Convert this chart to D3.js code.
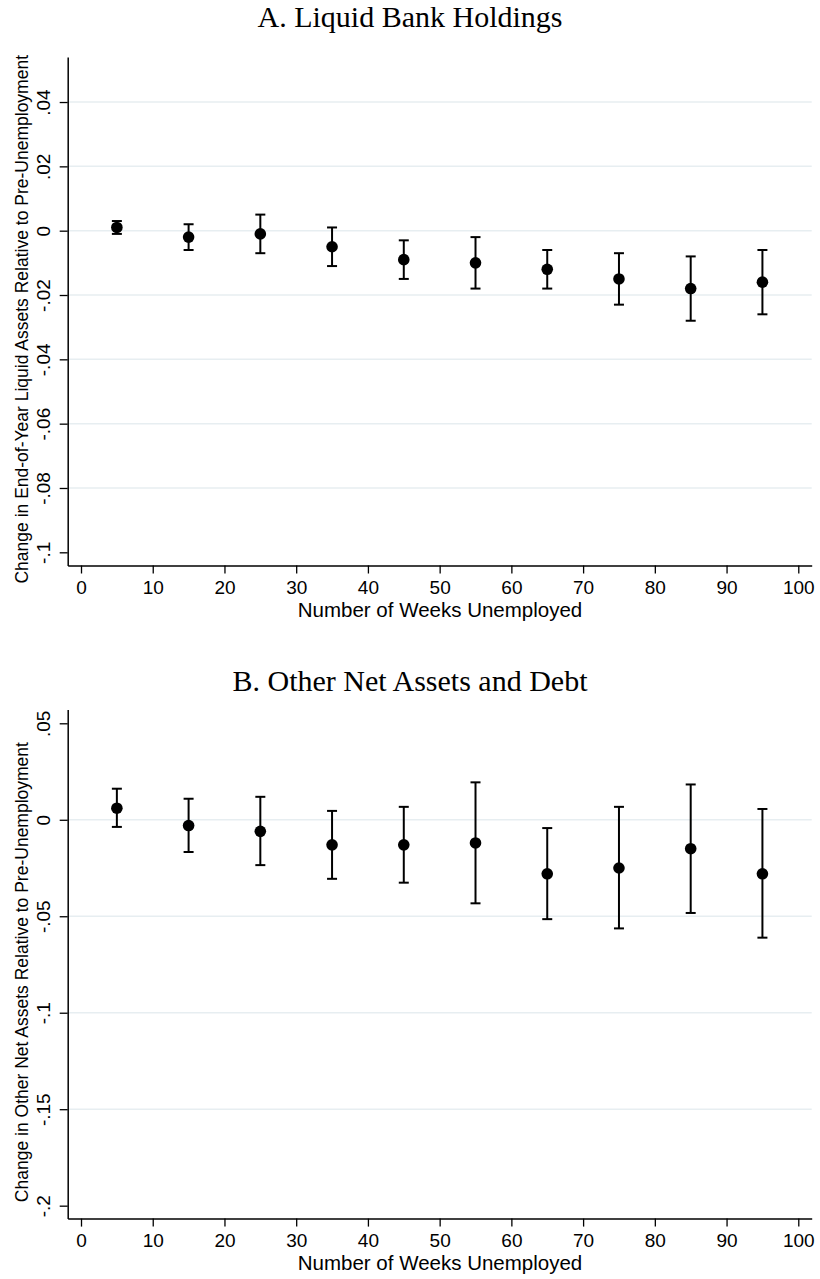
<!DOCTYPE html>
<html>
<head>
<meta charset="utf-8">
<script src="https://cdn.jsdelivr.net/npm/d3@7"></script>
<style>
  html, body { margin: 0; padding: 0; background: #fff; }
  svg { display: block; }
</style>
</head>
<body>
<script>
// ---------- data ----------
const weeks = [5, 15, 25, 35, 45, 55, 65, 75, 85, 95];

const liquidEst = [0.001, -0.002, -0.001, -0.005, -0.009, -0.010, -0.012, -0.015, -0.018, -0.016];
const liquidLo  = [-0.001, -0.006, -0.007, -0.011, -0.015, -0.018, -0.018, -0.023, -0.028, -0.026];
const liquidHi  = [0.003, 0.002, 0.005, 0.001, -0.003, -0.002, -0.006, -0.007, -0.008, -0.006];

const otherEst = [0.006, -0.003, -0.006, -0.013, -0.013, -0.012, -0.028, -0.025, -0.015, -0.028];
const otherLo  = [-0.0037, -0.0167, -0.0235, -0.0306, -0.0326, -0.0433, -0.0515, -0.0563, -0.0483, -0.0611];
const otherHi  = [0.0161, 0.0109, 0.0119, 0.0046, 0.0067, 0.0194, -0.0043, 0.0067, 0.0183, 0.0056];

const xTicks = [0, 10, 20, 30, 40, 50, 60, 70, 80, 90, 100];
const xTickLabels = ["0", "10", "20", "30", "40", "50", "60", "70", "80", "90", "100"];

const liquidTicks = [-0.1, -0.08, -0.06, -0.04, -0.02, 0, 0.02, 0.04];
const liquidTickLabels = ["-.1", "-.08", "-.06", "-.04", "-.02", "0", ".02", ".04"];

const otherTicks = [-0.2, -0.15, -0.1, -0.05, 0, 0.05];
const otherTickLabels = ["-.2", "-.15", "-.1", "-.05", "0", ".05"];

const titles = ["A. Liquid Bank Holdings", "B. Other Net Assets and Debt"];
const yTitles = ["Change in End-of-Year Liquid Assets Relative to Pre-Unemployment",
                 "Change in Other Net Assets Relative to Pre-Unemployment"];
const xTitle = "Number of Weeks Unemployed";

// ---------- layout ----------
const W = 820, H = 1279;
const svg = d3.select("body").append("svg").attr("width", W).attr("height", H);

const panels = [
  { title: titles[0], yTitle: yTitles[0], est: liquidEst, lo: liquidLo, hi: liquidHi,
    ticks: liquidTicks, labels: liquidTickLabels,
    yDomain: [-0.1041, 0.054], top: 57, bottom: 565.5, titleY: 26.7 },
  { title: titles[1], yTitle: yTitles[1], est: otherEst, lo: otherLo, hi: otherHi,
    ticks: otherTicks, labels: otherTickLabels,
    yDomain: [-0.2067, 0.0571], top: 709.6, bottom: 1218.6, titleY: 691 }
];

const left = 67.7, right = 811.7;
const x = d3.scaleLinear().domain([-1.855, 101.87]).range([left, right]);

const sans = "'Liberation Sans', Arial, Helvetica, sans-serif";
const serif = "'Liberation Serif', 'Times New Roman', serif";

panels.forEach(p => {
  const y = d3.scaleLinear().domain(p.yDomain).range([p.bottom, p.top]);
  const g = svg.append("g");

  // title
  g.append("text")
    .attr("x", 410).attr("y", p.titleY)
    .attr("text-anchor", "middle")
    .style("font-family", serif).style("font-size", "30px").attr("fill", "#000")
    .text(p.title);

  // gridlines (skip ticks too close to plot edges)
  g.append("g").selectAll("line")
    .data(p.ticks.filter(t => Math.abs(y(t) - p.top) > 20 && Math.abs(y(t) - p.bottom) > 20))
    .join("line")
    .attr("x1", left).attr("x2", right)
    .attr("y1", d => y(d)).attr("y2", d => y(d))
    .attr("stroke", "#e7eef1").attr("stroke-width", 1.5);

  // y axis
  const yAxis = d3.axisLeft(y).tickValues(p.ticks)
    .tickFormat((d, i) => p.labels[i]).tickSize(8).tickSizeOuter(0);
  const ya = g.append("g").attr("transform", `translate(${left},0)`).call(yAxis);
  ya.select(".domain").attr("stroke", "#000").attr("stroke-width", 1.5);
  ya.selectAll(".tick line").attr("stroke", "#000").attr("stroke-width", 1.3);
  ya.selectAll(".tick text")
    .attr("x", 0).attr("dy", null).attr("y", -17.7)
    .attr("transform", "rotate(-90)")
    .attr("text-anchor", "middle")
    .style("font-family", sans).style("font-size", "19px").attr("fill", "#000");

  // x axis
  const xAxis = d3.axisBottom(x).tickValues(xTicks)
    .tickFormat((d, i) => xTickLabels[i]).tickSize(8).tickSizeOuter(0);
  const xa = g.append("g").attr("transform", `translate(0,${p.bottom})`).call(xAxis);
  xa.select(".domain").attr("stroke", "#000").attr("stroke-width", 1.5);
  xa.selectAll(".tick line").attr("stroke", "#000").attr("stroke-width", 1.3);
  xa.selectAll(".tick text")
    .attr("y", 28.8).attr("dy", null)
    .style("font-family", sans).style("font-size", "19px").attr("fill", "#000");

  // x title
  g.append("text")
    .attr("x", 440).attr("y", p.bottom + 51)
    .attr("text-anchor", "middle")
    .style("font-family", sans).style("font-size", "20.5px").attr("fill", "#000")
    .text(xTitle);

  // y title
  g.append("text")
    .attr("transform", `translate(28,${(p.top + p.bottom) / 2 + 8}) rotate(-90)`)
    .attr("text-anchor", "middle")
    .style("font-family", sans).style("font-size", "17.5px").attr("fill", "#000")
    .text(p.yTitle);

  // error bars
  const idx = d3.range(weeks.length);
  const eb = g.append("g").attr("stroke", "#000").attr("stroke-width", 2);
  eb.selectAll("line.v").data(idx).join("line").attr("class", "v")
    .attr("x1", i => x(weeks[i])).attr("x2", i => x(weeks[i]))
    .attr("y1", i => y(p.lo[i])).attr("y2", i => y(p.hi[i]));
  eb.selectAll("line.ch").data(idx).join("line").attr("class", "ch")
    .attr("x1", i => x(weeks[i]) - 5).attr("x2", i => x(weeks[i]) + 5)
    .attr("y1", i => y(p.hi[i])).attr("y2", i => y(p.hi[i]));
  eb.selectAll("line.cl").data(idx).join("line").attr("class", "cl")
    .attr("x1", i => x(weeks[i]) - 5).attr("x2", i => x(weeks[i]) + 5)
    .attr("y1", i => y(p.lo[i])).attr("y2", i => y(p.lo[i]));

  // points
  g.append("g").selectAll("circle").data(idx).join("circle")
    .attr("cx", i => x(weeks[i])).attr("cy", i => y(p.est[i]))
    .attr("r", 5.8).attr("fill", "#000");
});
</script>
</body>
</html>
